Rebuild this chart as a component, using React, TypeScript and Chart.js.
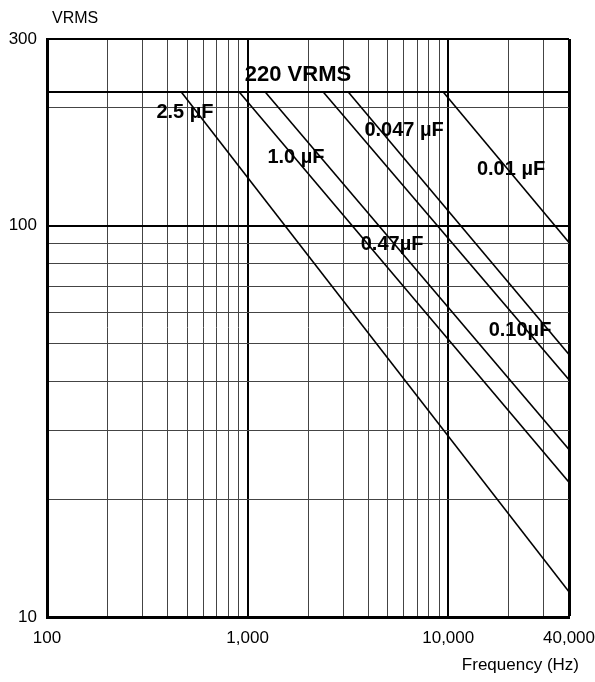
import React, { useEffect, useRef } from 'react';
import { Chart, registerables } from 'chart.js';

Chart.register(...registerables);

// Capacitor derating lines: start on the 220 VRMS line, end at 40 kHz
const capLabels = ['2.5 µF', '1.0 µF', '0.47µF', '0.10µF', '0.047 µF', '0.01 µF'];
const startFreq = [466, 906, 1221, 2376, 3167, 9419];
const startVolt = [220, 220, 220, 220, 220, 220];
const endFreq = [40000, 40000, 40000, 40000, 40000, 40000];
const endVolt = [11.6, 22.1, 26.8, 40.4, 46.9, 90.6];

// Label anchors (data units)
const labelFreq = [487, 1742, 5248, 22800, 6024, 20560];
const labelVolt = [195, 149, 89.3, 54.1, 175.6, 138.8];

const ratedText = '220 VRMS';
const ratedFreq = 1782;
const ratedVolt = 243;

// Axes
const xMin = 100;
const xMax = 40000;
const yMin = 10;
const yMax = 300;
const xGridValues = [
  100, 200, 300, 400, 500, 600, 700, 800, 900, 1000,
  2000, 3000, 4000, 5000, 6000, 7000, 8000, 9000, 10000,
  20000, 30000, 40000,
];
const yGridValues = [10, 20, 30, 40, 50, 60, 70, 80, 90, 100, 200, 220, 300];
const xTickValues = [100, 1000, 10000, 40000];
const xTickLabels = ['100', '1,000', '10,000', '40,000'];
const yTickValues = [10, 100, 300];
const yTickLabels = ['10', '100', '300'];
const xMajor = [1000, 10000];
const yMajor = [100, 220];

const xTitle = 'Frequency (Hz)';
const yTitle = 'VRMS';

const FONT = "'Liberation Sans', Arial, Helvetica, sans-serif";

const labelPlugin = {
  id: 'capLabels',
  afterDatasetsDraw(chart: any) {
    const { ctx, scales, chartArea } = chart;
    const xs = scales.x;
    const ys = scales.y;
    ctx.save();
    ctx.fillStyle = '#000';
    ctx.textAlign = 'center';
    ctx.textBaseline = 'middle';
    ctx.font = `bold 20px ${FONT}`;
    capLabels.forEach((t, i) => {
      ctx.fillText(t, xs.getPixelForValue(labelFreq[i]), ys.getPixelForValue(labelVolt[i]));
    });
    ctx.font = `bold 22px ${FONT}`;
    ctx.fillText(ratedText, xs.getPixelForValue(ratedFreq), ys.getPixelForValue(ratedVolt));

    ctx.font = `16px ${FONT}`;
    ctx.textAlign = 'left';
    ctx.fillText(yTitle, chartArea.left + 5, chartArea.top - 20);
    ctx.font = `17px ${FONT}`;
    ctx.textAlign = 'right';
    ctx.fillText(xTitle, chartArea.right + 10, chartArea.bottom + 48);
    ctx.restore();
  },
};

export default function App() {
  const canvasRef = useRef<HTMLCanvasElement | null>(null);

  useEffect(() => {
    if (!canvasRef.current) return;
    const datasets = capLabels.map((label, i) => ({
      label,
      data: [
        { x: startFreq[i], y: startVolt[i] },
        { x: endFreq[i], y: endVolt[i] },
      ],
      borderColor: '#000',
      borderWidth: 1.6,
      pointRadius: 0,
      fill: false,
      tension: 0,
    }));

    const chart = new Chart(canvasRef.current, {
      type: 'line',
      data: { datasets },
      options: {
        animation: false,
        responsive: true,
        maintainAspectRatio: false,
        layout: { padding: { left: 0, right: 26, top: 39, bottom: 0 } },
        plugins: {
          legend: { display: false },
          title: { display: false },
          tooltip: { enabled: false },
        },
        scales: {
          x: {
            type: 'logarithmic',
            min: xMin,
            max: xMax,
            afterBuildTicks: (s: any) => {
              s.ticks = xGridValues.map((v) => ({ value: v }));
            },
            afterFit: (s: any) => {
              s.height = 65;
              s.paddingLeft = 0;
              s.paddingRight = 0;
            },
            ticks: {
              autoSkip: false,
              maxRotation: 0,
              minRotation: 0,
              padding: 11,
              color: '#000',
              font: { family: FONT, size: 17 },
              callback: (value: any) => {
                const i = xTickValues.indexOf(Number(value));
                return i >= 0 ? xTickLabels[i] : '';
              },
            },
            grid: {
              drawTicks: false,
              color: (c: any) => {
                const v = c.tick && c.tick.value;
                return xMajor.includes(v) || v === xMax ? '#000' : '#444';
              },
              lineWidth: (c: any) => {
                const v = c.tick && c.tick.value;
                if (v === xMax) return 3;
                return xMajor.includes(v) ? 2 : 1;
              },
            },
            border: { display: true, color: '#000', width: 3 },
          },
          y: {
            type: 'logarithmic',
            min: yMin,
            max: yMax,
            afterBuildTicks: (s: any) => {
              s.ticks = yGridValues.map((v) => ({ value: v }));
            },
            afterFit: (s: any) => {
              s.width = 47;
              s.paddingTop = 0;
              s.paddingBottom = 0;
            },
            ticks: {
              autoSkip: false,
              padding: 10,
              color: '#000',
              font: { family: FONT, size: 17 },
              callback: (value: any) => {
                const i = yTickValues.indexOf(Number(value));
                return i >= 0 ? yTickLabels[i] : '';
              },
            },
            grid: {
              drawTicks: false,
              color: (c: any) => {
                const v = c.tick && c.tick.value;
                return yMajor.includes(v) || v === yMax ? '#000' : '#444';
              },
              lineWidth: (c: any) => {
                const v = c.tick && c.tick.value;
                if (v === yMax) return 2;
                return yMajor.includes(v) ? 2 : 1;
              },
            },
            border: { display: true, color: '#000', width: 3 },
          },
        },
      },
      plugins: [labelPlugin],
    } as any);

    return () => chart.destroy();
  }, []);

  return (
    <div style={{ position: 'absolute', left: 0, top: 0, width: 595, height: 682, background: '#fff' }}>
      <canvas ref={canvasRef} />
    </div>
  );
}
